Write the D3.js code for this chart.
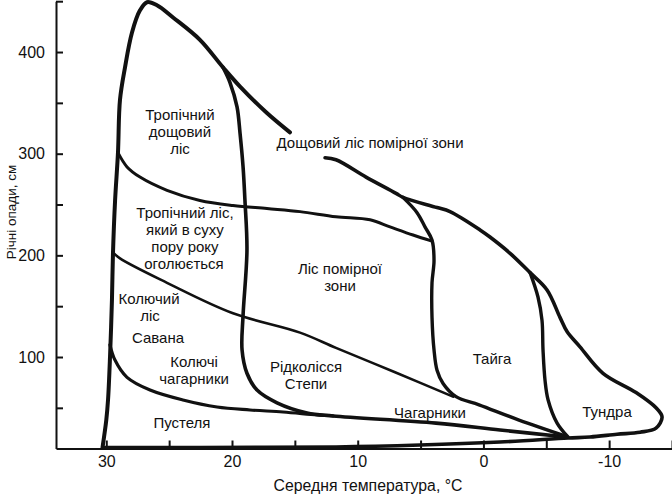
<!DOCTYPE html>
<html>
<head>
<meta charset="utf-8">
<script src="https://cdn.jsdelivr.net/npm/d3@7"></script>
<style>
	body { margin: 0; background: #fff; }
	svg { display: block; }
	text { font-family: "Liberation Sans", Arial, sans-serif; fill: #111; }
</style>
</head>
<body>
<svg id="biomes"></svg>
<script>
/*	Chart data: every curve is a list of [temperature °C, precipitation cm]--*/
const outerTop = [[30.3,11],[30.0,38],[29.86,58],[29.7,101],[29.55,156],[29.47,201],[29.3,254],
	[29.07,301],[28.91,353],[28.51,385],[27.96,419],[27.32,441],[26.76,449],[25.97,446],
	[24.69,434],[22.55,412],[20.72,385],[19.36,366],[17.22,340],[15.39,321]];
const outerRest = [[12.6,296],[11.73,294],[9.34,277],[6.95,261],[6.4,257],[3.69,247],[2.66,243],
	[0.27,225],[-0.52,218],[-2.12,202],[-3.71,183],[-5.06,166],[-6.09,139],[-6.65,125],
	[-7.68,110],[-9.51,84],[-12.14,65],[-13.73,50],[-14.21,41],[-13.73,30],[-12.46,26],
	[-10.63,24],[-8.48,21.3],[-6.73,20.3],[-1.32,16.4],[5.04,13.4],[11.73,11.5],[22.55,11],[30.18,11]];
const rainForestLine = [[29.07,301],[28.35,287],[27.32,277],[25.17,264],[22.55,254],[19.92,249],
	[17.22,246],[14.59,243],[11.73,238],[9.02,235],[7.43,228],[5.6,220],[4.09,214]];
const tropicLine = [[20.72,385],[20.16,370],[19.6,346],[19.36,320],[19.12,287],[18.97,254],
	[18.81,205],[19.12,141],[19.2,107],[18.81,84],[18.01,67.5],[16.42,55],[14.03,45],[11.96,42],
	[3.77,35],[-1.32,28.2],[-6.6,21.3]];
const desertLine = [[29.71,112],[29.31,97],[28.35,80],[26.52,67.5],[23.9,57.7],[21.19,50.8],
	[18.57,47.9],[15.94,45.9],[13.24,43],[11.96,42]];
const savannaLine = [[29.47,203],[28.91,197],[25.17,173],[19.92,143],[14.59,124],[11.73,109],
	[7.03,85],[2.42,61]];
const temperateLine = [[6.4,257],[5.28,242],[4.65,228],[4.09,215],[3.93,195],[4.09,173],
	[4.09,139],[3.93,107],[3.69,87],[3.21,74],[2.18,61],[0.35,53],[-2.83,38],[-6.6,22]];
const taigaLine = [[-3.71,183],[-4.34,159],[-4.66,136],[-4.74,107],[-4.9,77],[-5.14,58],
	[-5.86,35],[-6.73,21.3]];

/*	Region names and the point each line of text is centred on------------*/
const labelTexts = ["Тропічний","дощовий","ліс","Дощовий ліс помірної зони","Тропічний ліс,",
	"який в суху","пору року","оголюється","Ліс помірної","зони","Колючий","ліс","Савана",
	"Колючі","чагарники","Рідколісся","Степи","Пустеля","Чагарники","Тайга","Тундра"];
const labelTemps = [24.14,24.14,24.14,9.02,23.74,23.74,23.74,23.82,11.41,11.41,26.6,26.52,25.89,
	23.02,23.02,14.11,14.11,23.98,4.25,-0.68,-9.83];
const labelPrecip = [338,321.3,304.6,310.5,241.6,224.9,208.2,191.5,186.6,169.8,157,140.3,118.7,
	95.1,78.4,90.2,73.4,35.1,44.9,98,45.9];

/*	Axis ticks---------------------------------------------------------*/
const tempTicks = [30,25,20,15,10,5,0,-5,-10,-15];
const tempLabels = [30,20,10,0,-10];
const precipTicks = [50,100,150,200,250,300,350,400,450];
const precipLabels = [100,200,300,400];

/*	Size of the svg-------------------------------------------------------*/
const width = 672, height = 495;
const svg = d3.select("#biomes").attr("width", width).attr("height", height);

const x = d3.scaleLinear().domain([34, -15]).range([56, 672]);
const y = d3.scaleLinear().domain([10, 450]).range([448.5, 1.2]);

/*	Axes: ticks point inwards, labels outside------------------------------*/
svg.append("g")
	.attr("class", "axis")
	.attr("transform", "translate(0," + y(10) + ")")
	.call(d3.axisBottom(x).tickValues(tempTicks).tickSize(-8).tickSizeOuter(0).tickPadding(7)
		.tickFormat(d => tempLabels.includes(d) ? d : ""));

svg.append("g")
	.attr("class", "axis")
	.attr("transform", "translate(" + x(34) + ",0)")
	.call(d3.axisLeft(y).tickValues(precipTicks).tickSize(-7).tickSizeOuter(0).tickPadding(11)
		.tickFormat(d => precipLabels.includes(d) ? d : ""));

svg.selectAll(".axis path, .axis line").attr("stroke", "#111").attr("stroke-width", 2);
svg.selectAll(".axis text").attr("font-size", 16).attr("fill", "#111")
	.attr("font-family", "'Liberation Sans', Arial, sans-serif");

/*	Curves-----------------------------------------------------------------*/
const line = d3.line()
	.x(d => x(d[0]))
	.y(d => y(d[1]))
	.curve(d3.curveCatmullRom.alpha(0.5));

const curves = [
	{pts: outerTop, w: 4},
	{pts: outerRest, w: 3.6},
	{pts: rainForestLine, w: 3},
	{pts: tropicLine, w: 3.6},
	{pts: desertLine, w: 3.2},
	{pts: savannaLine, w: 2.6},
	{pts: temperateLine, w: 3.4},
	{pts: taigaLine, w: 3.4}
];

svg.append("g").selectAll("path")
	.data(curves)
	.join("path")
	.attr("d", d => line(d.pts))
	.attr("fill", "none")
	.attr("stroke", "#111")
	.attr("stroke-width", d => d.w)
	.attr("stroke-linecap", "round")
	.attr("stroke-linejoin", "round");

/*	Region names----------------------------------------------------------*/
svg.append("g").selectAll("text")
	.data(labelTexts)
	.join("text")
	.attr("x", (d, i) => x(labelTemps[i]))
	.attr("y", (d, i) => y(labelPrecip[i]))
	.attr("dy", "0.35em")
	.attr("text-anchor", "middle")
	.attr("font-size", 15)
	.text(d => d);

/*	Axis titles-----------------------------------------------------------*/
svg.append("text")
	.attr("x", 368).attr("y", 491)
	.attr("text-anchor", "middle")
	.attr("font-size", 15.8)
	.text("Середня температура, °С");

svg.append("text")
	.attr("transform", "translate(16,212) rotate(-90)")
	.attr("text-anchor", "middle")
	.attr("font-size", 13.5)
	.text("Річні опади, см");
</script>
</body>
</html>
